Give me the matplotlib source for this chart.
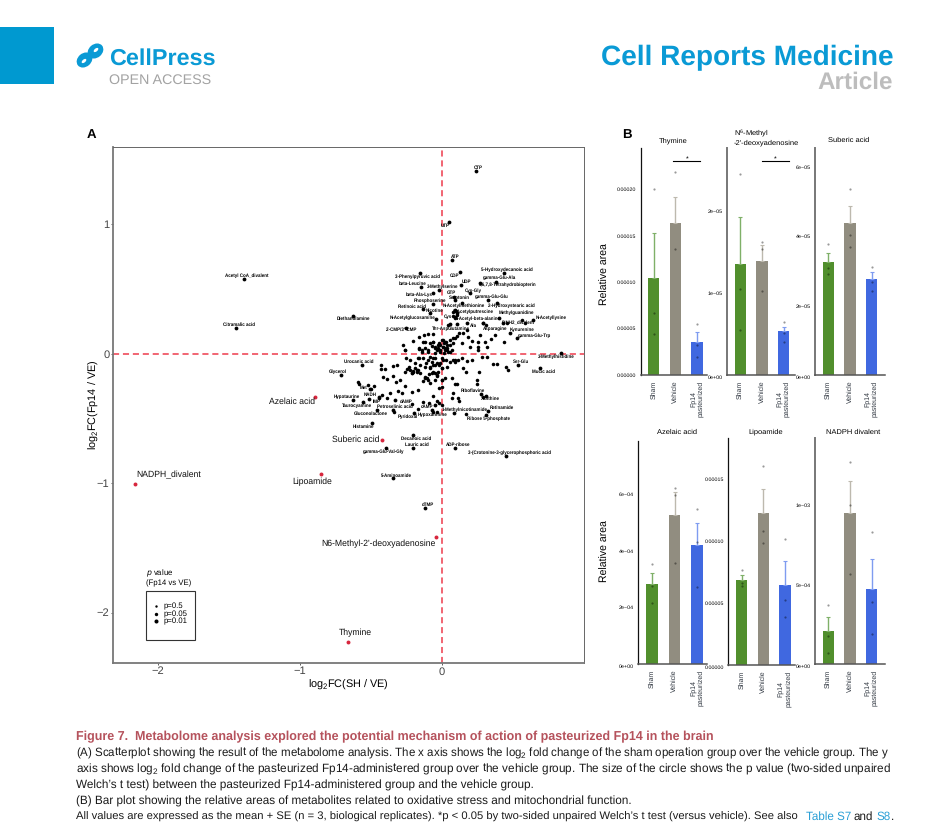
"""Metabolome figure page: scatter of log2 fold changes and six bar panels."""
import matplotlib
matplotlib.use("Agg")
import matplotlib.pyplot as plt
from matplotlib.patches import Ellipse, Rectangle

W, H = 942, 838

# Panel A, labelled metabolites
NAMES = ["CTP", "UTP", "ATP", "CDP", "3-Phenylpyruvic acid", "beta-Leucine", "3-Methylserine", "UDP", "GTP",
         "Cys-Gly", "5-Hydroxydecanoic acid", "gamma-Glu-Ala", "5,6,7,8-Tetrahydrobiopterin", "beta-Ala-Lys",
         "Serotonin", "gamma-Glu-Glu", "Phosphoserine", "Retinoic acid", "N-Acetylmethionine",
         "2-Hydroxystearic acid", "Nicotine", "N-Acetylglucosamine", "Cys", "N-Acetylputrescine",
         "N-Acetyl-beta-alanine", "Methylguanidine", "N-Acetyllysine", "P-NH2_divalent", "Ala", "Thr-Asp",
         "Glutamine", "Asparagine", "Kynurenine", "gamma-Glu-Trp", "2'-CMP/3'-CMP", "Diethanolamine",
         "3-Methylhistidine", "Acetyl CoA_divalent", "Citramalic acid",
         "Urocanic acid", "Glycerol", "Ser-Glu", "Mucic acid", "Met", "NADH", "Hypotaurine", "IMP",
         "Taurocyamine", "dAMP", "Petroselinic acid", "cAMP", "Gluconolactone", "Pyridoxal", "Hypoxanthine",
         "Riboflavine", "Xanthine", "1-Methylnicotinamide", "Retinamide", "Ribose 5-phosphate", "Histamine",
         "Decanoic acid", "Lauric acid", "gamma-Glu-Val-Gly", "ADP-ribose",
         "3-(Crotonine-3-glycerophosphoric acid", "5-Aminoamide", "dTMP"]
NAME_X = [0.237, 0.052, 0.070, 0.127, -0.155, -0.146, -0.023, 0.131, 0.085,
          0.197, 0.437, 0.378, 0.268, -0.061,
          0.092, 0.322, -0.061, -0.131, 0.138,
          0.385, -0.085, -0.042, 0.103, 0.092,
          0.092, 0.404, 0.643, 0.432, 0.174, 0.056,
          0.103, 0.291, 0.479, 0.526, -0.256, -0.624,
          0.840, -1.394, -1.451,
          -0.566, -0.709, 0.535, 0.690, -0.507, -0.514, -0.624, -0.441,
          -0.554, -0.331, -0.343, -0.049, -0.455, -0.195, -0.073,
          0.272, 0.310, 0.085, 0.322, 0.310, -0.495,
          -0.207, -0.202, -0.394, 0.094,
          0.451, -0.343, -0.120]
NAME_Y = [1.409, 1.015, 0.722, 0.627, 0.619, 0.516, 0.490, 0.532, 0.439,
          0.465, 0.619, 0.555, 0.542, 0.465,
          0.413, 0.413, 0.380, 0.341, 0.393,
          0.387, 0.310, 0.264, 0.310, 0.336,
          0.284, 0.272, 0.259, 0.233, 0.233, 0.228,
          0.228, 0.233, 0.161, 0.117, 0.199, 0.292,
          0.001, 0.575, 0.197,
          -0.089, -0.169, -0.089, -0.109, -0.277, -0.351, -0.359, -0.333,
          -0.377, -0.359, -0.436, -0.398, -0.436, -0.462, -0.436,
          -0.313, -0.326, -0.462, -0.441, -0.475, -0.539,
          -0.629, -0.732, -0.732, -0.732,
          -0.794, -0.964, -1.196]

# Panel A, metabolites named in panel B
RED_NAMES = ["Suberic acid", "Azelaic acid", "NADPH_divalent", "Lipoamide", "N6-Methyl-2'-deoxyadenosine", "Thymine"]
RED_X = [-0.423, -0.894, -2.162, -0.849, -0.042, -0.662]
RED_Y = [-0.670, -0.336, -1.008, -0.931, -1.417, -2.228]

# Panel A, unlabelled metabolites
CLOUD_X = [-0.432, -0.430, -0.399, -0.315, -0.343, -0.254, -0.164, -0.258, -0.164, -0.120, -0.038, 0.021,
           -0.049, -0.002, 0.028, 0.080, 0.092, 0.115, 0.138, 0.174, 0.209, 0.279, 0.315, 0.357, 0.385, 0.451,
           0.467, 0.150, 0.167, 0.263, -0.261, -0.230, -0.190, -0.167, -0.214, -0.155, -0.085, -0.049, -0.026,
           -0.002, -0.120, -0.108, -0.136, -0.085, -0.049, -0.002, 0.021, 0.068, 0.249, 0.244, 0.092, 0.108,
           -0.413, -0.390, -0.343, -0.296, -0.324, -0.594, -0.582, -0.523, -0.502, -0.477, -0.425, -0.441,
           -0.390, -0.312, -0.263, -0.366, -0.284, -0.167, -0.214, -0.019, -0.002, -0.061, -0.131, -0.089,
           -0.033, -0.021, 0.000, -0.214, -0.167, 0.075, 0.073, 0.115, 0.122, 0.167, 0.291, -0.061, -0.038,
           -0.338, -0.202, -0.178, -0.225, -0.244, -0.073, -0.038, -0.061, -0.019, -0.085, -0.113, -0.061,
           -0.089, -0.038, -0.143, -0.096, 0.014, 0.045, 0.068,
           -0.160, -0.127, -0.096, -0.066, -0.202, -0.272, -0.261, -0.162, -0.120, -0.085, -0.049, -0.002,
           0.009, 0.028, 0.056, 0.092, 0.108, 0.122, 0.150, 0.174, 0.185, 0.209, 0.256, 0.268, 0.303, 0.345,
           0.373, 0.437, 0.256, 0.009, 0.033, -0.014, -0.049, -0.143, 0.080, 0.138, 0.197, -0.061, -0.019,
           0.256, 0.315, 0.014, -0.014, 0.038, 0.021, -0.026, 0.056, 0.080, 0.099, 0.108, 0.080, 0.092, 0.291,
           0.308, 0.561, 0.585, 0.455, 0.045,
           -0.225, -0.190, -0.178, -0.155, -0.120, -0.085, -0.049, -0.014, 0.009, -0.073, -0.038, -0.002, 0.033,
           0.056, 0.092, -0.061, -0.096, -0.131, -0.167, -0.202, -0.214, -0.120, -0.096, -0.002,
           -0.049, -0.026, -0.073, 0.009, 0.033, -0.014, -0.061, 0.021, 0.056, 0.080, -0.096, -0.131]
CLOUD_Y = [-0.089, -0.122, -0.120, -0.089, -0.094, -0.037, -0.037, 0.030, 0.040, 0.045, 0.027, 0.045,
           -0.037, -0.037, -0.050, -0.050, -0.063, -0.050, -0.037, -0.055, -0.050, -0.024, -0.030, -0.084,
           -0.084, -0.102, -0.127, -0.115, -0.140, -0.145, -0.140, -0.102, -0.115, -0.127, -0.153, -0.153,
           -0.115, -0.153, -0.140, -0.115, -0.179, -0.192, -0.212, -0.230, -0.205, -0.205, -0.192, -0.192,
           -0.202, -0.238, -0.238, -0.238, -0.181, -0.199, -0.171, -0.205, -0.217, -0.217, -0.233, -0.243,
           -0.277, -0.248, -0.320, -0.341, -0.346, -0.287, -0.248, -0.302, -0.308, -0.282, -0.295, -0.264,
           -0.256, -0.326, -0.372, -0.380, -0.367, -0.385, -0.398, -0.393, -0.429, -0.308, -0.346, -0.341,
           -0.364, -0.467, -0.333, -0.449, -0.449, -0.449, -0.135, -0.145, -0.127, -0.120, -0.063, -0.076,
           -0.089, -0.089, -0.024, -0.076, -0.140, -0.161, -0.171, 0.014, 0.014, 0.001, 0.014, 0.027,
           0.130, 0.143, 0.151, 0.151, 0.097, 0.066, 0.027, 0.035, 0.091, 0.079, 0.053, 0.104,
           0.104, 0.091, 0.104, 0.117, 0.135, 0.156, 0.161, 0.181, 0.130, 0.099, 0.091, 0.143, 0.091, 0.112,
           0.143, 0.086, 0.053, 0.053, 0.040, 0.027, 0.001, 0.027, 0.079, 0.079, 0.053, 0.091, 0.084,
           0.027, 0.053, 0.084, 0.066, 0.066, 0.027, 0.040, 0.014, 0.323, 0.331, 0.297, 0.290, 0.272, 0.233,
           0.220, 0.259, 0.233, 0.233, 0.220,
           -0.050, -0.076, -0.127, -0.089, -0.102, -0.102, -0.089, -0.076, -0.050, -0.153, -0.166, -0.115, -0.102,
           -0.063, -0.050, -0.037, -0.050, -0.037, -0.037, -0.140, -0.153, -0.192, -0.205, -0.205,
           0.040, 0.066, 0.058, 0.053, 0.027, 0.014, 0.091, 0.091, 0.066, 0.117, 0.027, 0.091]

# Panel B
GROUPS = ["Sham", "Vehicle", "Fp14\npasteurized"]
TITLES = ["Thymine", "N$^{6}$-Methyl\n-2'-deoxyadenosine", "Suberic acid", "Azelaic acid", "Lipoamide", "NADPH divalent"]
MEANS = [[1.041e-4, 1.637e-4, 3.59e-5], [1.359e-5, 1.396e-5, 5.39e-6], [3.26e-5, 4.385e-5, 2.77e-5],
         [2.83e-4, 5.26e-4, 4.2e-4], [6.85e-5, 1.226e-4, 6.48e-5], [2.09e-4, 9.5e-4, 4.73e-4]]
ERRORS = [[4.85e-5, 2.77e-5, 1.01e-5], [5.71e-6, 1.92e-6, 5.3e-7], [2.6e-6, 4.9e-6, 1.9e-6],
          [4.0e-5, 8.3e-5, 7.8e-5], [3.8e-6, 1.91e-5, 1.91e-5], [9.0e-5, 2.03e-4, 1.88e-4]]
REPLICATES = [
    [[2.0e-4, 6.64e-5, 4.38e-5], [2.19e-4, 1.354e-4], [5.5e-5, 3.2e-5, 1.97e-5]],
    [[2.457e-5, 1.05e-5, 5.55e-6], [1.624e-5, 1.539e-5, 1.024e-5], [6.45e-6, 5.18e-6, 4.08e-6]],
    [[3.77e-5, 3.10e-5, 2.92e-5], [5.37e-5, 4.03e-5, 3.69e-5], [3.12e-5, 2.69e-5, 2.43e-5]],
    [[3.53e-4, 2.77e-4, 2.16e-4], [6.21e-4, 5.98e-4, 3.58e-4], [5.46e-4, 4.32e-4, 2.74e-4]],
    [[7.69e-5, 6.61e-5, 6.37e-5], [1.608e-4, 1.078e-4, 9.87e-5], [1.016e-4, 5.24e-5, 3.87e-5]],
    [[3.7e-4, 1.78e-4, 6.9e-5], [1.27e-3, 1.002e-3, 5.67e-4], [8.28e-4, 3.89e-4, 1.92e-4]],
]
TICKS = [[0, 5e-5, 1e-4, 1.5e-4, 2e-4], [0, 1e-5, 2e-5], [0, 2e-5, 4e-5, 6e-5],
         [0, 2e-4, 4e-4, 6e-4], [0, 5e-5, 1e-4, 1.5e-4], [0, 5e-4, 1e-3]]
TICK_LABELS = [["0.00000", "0.00005", "0.00010", "0.00015", "0.00020"], ["0e+00", "1e\u221205", "2e\u221205"],
               ["0e+00", "2e\u221205", "4e\u221205", "6e\u221205"], ["0e+00", "2e\u221204", "4e\u221204", "6e\u221204"],
               ["0.00000", "0.00005", "0.00010", "0.00015"], ["0e+00", "5e\u221204", "1e\u221203"]]
YMAX = [2.449e-4, 2.78e-5, 6.56e-5, 7.87e-4, 1.833e-4, 1.423e-3]

CAPTION_TITLE = "Figure 7.  Metabolome analysis explored the potential mechanism of action of pasteurized Fp14 in the brain"
CAPTION = [
    "(A) Scatterplot showing the result of the metabolome analysis. The x axis shows the log$_2$ fold change of the sham operation group over the vehicle group. The y",
    "axis shows log$_2$ fold change of the pasteurized Fp14-administered group over the vehicle group. The size of the circle shows the p value (two-sided unpaired",
    "Welch\u2019s t test) between the pasteurized Fp14-administered group and the vehicle group.",
    "(B) Bar plot showing the relative areas of metabolites related to oxidative stress and mitochondrial function.",
    "All values are expressed as the mean + SE (n = 3, biological replicates). *p < 0.05 by two-sided unpaired Welch\u2019s t test (versus vehicle). See also",
]

# label offsets from the point, in pixels
NAME_OFFSETS = [(2.7, 3.7), (-4, -3.3), (3, 3.7), (-5.3, -3), (-2.7, -3), (-8.7, 3.3), (4, 3.7), (6.3, 3.3), (-2.3, 4.3),
                (3, 2.7), (3.3, 4), (3.7, 4.3), (27.3, -1), (-14.3, -1), (4.3, 2.3), (3.7, 3.7), (-3.3, 3.7), (-11, 3),
                (2.7, -3), (15, -2), (4.3, 3), (-23.7, 2), (-8.3, -3), (18.3, -1.3), (22.3, -2), (17.3, 5.7), (18, 2.3),
                (15, 0), (6.7, -2), (-9.3, -4.3), (2.3, -4.7), (11.7, -5), (11.7, 3.3), (18, 3), (-4, -2.3), (0, -2.7),
                (-5, -3), (3, 3.3), (3, 3.7), (-2.7, 3.7), (-3.3, 4), (2.7, 3.7), (3.3, -3.7), (-6.7, 2), (1, 4.7),
                (-6.7, 3.3), (-2.7, -4.7), (-6, -3), (11, -1.3), (1.3, 3), (-7.7, -1.3), (-6.3, -3.3), (-6.3, -3),
                (0.7, -4.3), (-7.3, 3.7), (4, -2.7), (11, 4), (14.3, 3.3), (2.7, -3.3), (-8, -3), (3.3, -3.7), (3.3, 4),
                (-2.7, -3.3), (3, 4), (3, 4), (2.7, 3), (3.3, 4)]
RED_OFFSETS = [(-26, 1), (-23, -5), (34, 9), (-9.5, -8), (-58, -7), (7, 9)]

# pixel frames of the bar panels: left, top, right, bottom, first bar centre in axis units
BAR_FRAMES = [(640.7, 147.7, 706.7, 375, 0.61), (726.7, 147.7, 795, 375, 0.63), (814.7, 147.7, 885, 375, 0.63),
              (638.3, 441, 706.7, 664.3, 0.62), (728.3, 437.7, 795, 665, 0.62), (814.7, 437.7, 885, 664.3, 0.63)]
BAR_COLORS = ["#518f2d", "#918d80", "#4068e0"]
ERR_COLORS = ["#7fb068", "#bdb9ae", "#7f9cf0"]
BLUE = "#0a9ad5"
BODY_SIZE = 8.35
LINE_SIZES = [8.31, 8.45, 8.5, 8.45, 8.1]


def frame_axes(fig, left, top, right, bottom):
    return fig.add_axes([left / W, 1 - bottom / H, (right - left) / W, (bottom - top) / H])


def draw_scatter(fig):
    ax = frame_axes(fig, 113, 147, 584, 663)
    ax.set_xlim(-2.317, 1.0)
    ax.set_ylim(-2.39, 1.595)
    ax.axhline(0, color="#ee3a4c", lw=1.1, dashes=(4, 2.5), zorder=1)
    ax.axvline(0, color="#ee3a4c", lw=1.1, dashes=(4, 2.5), zorder=1)
    ax.scatter(CLOUD_X, CLOUD_Y, s=6.5, color="black", linewidths=0, zorder=3)
    ax.scatter(NAME_X, NAME_Y, s=7.5, color="black", linewidths=0, zorder=3)
    ax.scatter(RED_X, RED_Y, s=8, color="#d7263d", linewidths=0, zorder=3)
    for name, x, y, off in zip(NAMES, NAME_X, NAME_Y, NAME_OFFSETS):
        ax.annotate(name, xy=(x, y), xytext=off, textcoords="offset pixels", fontsize=3.25,
                    fontweight="bold", ha="center", va="center", color="black", zorder=4)
    for name, x, y, off in zip(RED_NAMES, RED_X, RED_Y, RED_OFFSETS):
        ax.annotate(name, xy=(x, y), xytext=off, textcoords="offset pixels", fontsize=6.2,
                    ha="center", va="center", color="#111111", zorder=4)

    ax.set_xticks([-2, -1, 0])
    ax.set_xticklabels(["\u22122", "\u22121", "0"])
    ax.set_yticks([-2, -1, 0, 1])
    ax.set_yticklabels(["\u22122", "\u22121", "0", "1"])
    ax.tick_params(labelsize=8, length=1.5, width=0.6, pad=1, colors="#444444")
    ax.set_xlabel("log$_2$FC(SH / VE)", fontsize=7.8, labelpad=1)
    ax.set_ylabel("log$_2$FC(Fp14 / VE)", fontsize=7.8, labelpad=-3)
    for side in ("left", "bottom"):
        ax.spines[side].set_linewidth(1.3)
        ax.spines[side].set_color("#777777")
    for side in ("top", "right"):
        ax.spines[side].set_linewidth(0.7)
        ax.spines[side].set_color("#666666")


def draw_bars(fig):
    for i, frame in enumerate(BAR_FRAMES):
        left, top, right, bottom, first = frame
        ax = frame_axes(fig, left, top, right, bottom)
        unit = 21.6 if i != 3 else 22.4
        ax.set_xlim(-first, (right - left) / unit - first)
        ax.set_ylim(0, YMAX[i])
        ax.patch.set_alpha(0)
        xs = range(3)
        ax.bar(xs, MEANS[i], width=0.52, color=BAR_COLORS, zorder=2)
        for x, mean, err, col in zip(xs, MEANS[i], ERRORS[i], ERR_COLORS):
            ax.errorbar(x, mean, yerr=[[0], [err]], color=col, lw=1.0, capsize=1.6, capthick=0.8, zorder=3)
        for x, points in zip(xs, REPLICATES[i]):
            ax.scatter([x] * len(points), points, s=2.5, color="black", alpha=0.4, linewidths=0, zorder=4)

        ax.set_yticks(TICKS[i])
        ax.set_yticklabels(TICK_LABELS[i])
        ax.tick_params(axis="y", length=0, labelsize=3.9, pad=3, colors="black")
        if i != 0:
            ax.get_yticklabels()[0].set_va("top")
        ax.set_xticks(list(xs))
        ax.set_xticklabels(GROUPS, rotation=90, linespacing=1.0)
        ax.tick_params(axis="x", length=0, labelsize=5, pad=4, colors="#2f3640")
        for tick in ax.get_xticklabels():
            tick.set_va("top")
        for side in ("top", "right"):
            ax.spines[side].set_visible(False)
        dark = i in (0, 3, 4)
        ax.spines["left"].set_color("#111111" if dark else "#777777")
        ax.spines["left"].set_linewidth(0.9 if dark else 1.4)
        ax.spines["bottom"].set_color("#555555")
        ax.spines["bottom"].set_linewidth(1.1)


def draw_page(fig):
    page = fig.add_axes([0, 0, 1, 1], zorder=10)
    page.set_xlim(0, W)
    page.set_ylim(H, 0)
    page.axis("off")

    # header
    page.add_patch(Rectangle((0, 27), 54, 57, color="#0099d0", lw=0))
    for cx, cy in [(84.5, 60), (95.5, 51)]:
        page.add_patch(Ellipse((cx, cy), 17, 13.5, angle=-40, fc=BLUE, ec="none"))
    page.add_patch(Ellipse((84, 61), 5.5, 3, angle=-40, fc="white", ec="none"))
    page.add_patch(Ellipse((96, 50), 5.5, 3, angle=-40, fc="white", ec="none"))
    page.text(109, 65, "CellPress", fontsize=16.8, fontweight="bold", color=BLUE, va="baseline")
    page.text(109, 84, "OPEN ACCESS", fontsize=10.3, color="#a3a3a3", va="baseline")
    page.text(894, 65, "Cell Reports Medicine", fontsize=20.2, fontweight="bold", color=BLUE, ha="right", va="baseline")
    page.text(893, 89, "Article", fontsize=17.5, fontweight="bold", color="#bdbdbd", ha="right", va="baseline")

    # panel letters and shared labels
    page.text(91, 135, "A", fontsize=9.5, fontweight="bold", ha="center", va="center")
    page.text(627, 135, "B", fontsize=9.5, fontweight="bold", ha="center", va="center")
    page.text(605, 274, "Relative area", fontsize=7.6, rotation=90, ha="center", va="center")
    page.text(605, 551, "Relative area", fontsize=7.6, rotation=90, ha="center", va="center")

    # bar panel titles
    title_pos = [(673, 141, "center"), (734, 136.5, "left"), (849, 140, "center"),
                 (676.7, 432, "center"), (766, 432, "center"), (852.7, 432, "center")]
    for title, (x, y, ha) in zip(TITLES, title_pos):
        page.text(x, y, title, fontsize=5.4, ha=ha, va="center", linespacing=1.1)

    # significance brackets
    for x0, x1 in [(673.3, 700.3), (762.3, 789)]:
        page.plot([x0, x1], [161.3, 161.3], color="black", lw=0.8)
        page.text((x0 + x1) / 2, 160, "*", fontsize=5, ha="center", va="center")

    # p value key
    page.text(146, 573, "$\\mathit{p}$ value", fontsize=5.6, va="center")
    page.text(146, 583, "(Fp14 vs VE)", fontsize=5.6, va="center")
    page.add_patch(Rectangle((145.7, 591), 49.6, 49, fc="none", ec="#333333", lw=0.8))
    for y, size, label in [(606, 3, "p=0.5"), (614, 6, "p=0.05"), (621, 8.5, "p=0.01")]:
        page.scatter([156], [y], s=size, color="black", linewidths=0)
        page.text(164, y, label, fontsize=5.6, va="center")

    # caption
    page.text(76, 737, CAPTION_TITLE, fontsize=9.03, fontweight="bold", color="#b5525c", va="center")
    for i, (line, size) in enumerate(zip(CAPTION, LINE_SIZES)):
        page.text(76, 753 + 16 * i, line, fontsize=size, color="#1a1a1a", va="center")
    page.text(806, 817, "Table S7", fontsize=BODY_SIZE, color="#2a9fd6", va="center")
    page.text(853.5, 817, "and", fontsize=BODY_SIZE, color="#1a1a1a", va="center")
    page.text(876.5, 817, "S8", fontsize=BODY_SIZE, color="#2a9fd6", va="center")
    page.text(890.5, 817, ".", fontsize=BODY_SIZE, color="#1a1a1a", va="center")


def main():
    plt.rcParams["font.family"] = ["Liberation Sans", "DejaVu Sans"]
    plt.rcParams["mathtext.default"] = "regular"
    plt.rcParams["text.hinting"] = "no_hinting"
    fig = plt.figure(figsize=(W / 100, H / 100), dpi=100, facecolor="white")
    draw_scatter(fig)
    draw_bars(fig)
    draw_page(fig)
    fig.savefig("out.png", dpi=100)


if __name__ == "__main__":
    main()
